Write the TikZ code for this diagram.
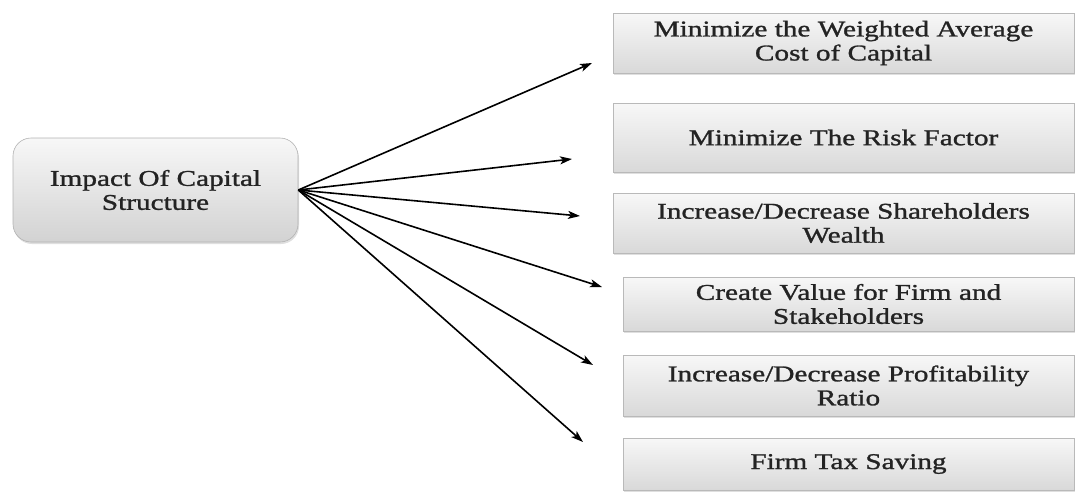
\documentclass[tikz,border=0pt]{standalone}
\usepackage{fontspec}
\setmainfont{Liberation Serif}[FakeStretch=1.3,FakeBold=1.2]
\usepackage{tikz}
\usetikzlibrary{arrows.meta,shadows}

\definecolor{boxtext}{RGB}{35,35,35}

\begin{document}
\begin{tikzpicture}[x=1pt, y=-1pt, >={Stealth[length=12pt,width=8pt,inset=3pt]}, semithick,
        impactbox/.style={rounded corners=18pt, draw=gray!60, top color=gray!6, bottom color=gray!35,
          drop shadow={shadow xshift=1pt, shadow yshift=-2pt, opacity=0.25},
          align=center, text=boxtext, font=\fontsize{22.5}{24}\selectfont},
        effectbox/.style={draw=gray!55, top color=gray!6, bottom color=gray!30,
          drop shadow={shadow xshift=1pt, shadow yshift=-2pt, opacity=0.25},
          align=center, text=boxtext, font=\fontsize{22.5}{24}\selectfont},
        link/.style={->, line width=1.6pt, black}]
        \useasboundingbox (0,0) rectangle (1075,491);
        \node[impactbox, minimum width=285pt, minimum height=104pt] at (155.5,190) (impact) {Impact Of Capital\\Structure};
        \node[effectbox, minimum width=461pt, minimum height=60pt] at (843.5,43)    (wacc)   {Minimize the Weighted Average\\Cost of Capital};
        \node[effectbox, minimum width=461pt, minimum height=69pt] at (843.5,137.5) (risk)   {Minimize The Risk Factor};
        \node[effectbox, minimum width=461pt, minimum height=60pt] at (843.5,223)   (wealth) {Increase/Decrease Shareholders\\Wealth};
        \node[effectbox, minimum width=451pt, minimum height=54pt] at (848.5,304)   (value)  {Create Value for Firm and\\Stakeholders};
        \node[effectbox, minimum width=451pt, minimum height=61pt] at (848.5,385.5) (profit) {Increase/Decrease Profitability\\Ratio};
        \node[effectbox, minimum width=451pt, minimum height=52pt] at (848.5,464)   (tax)    {Firm Tax Saving};
        % arrow ends stop short of the boxes
        \coordinate (wacc end)   at (592,63);
        \coordinate (risk end)   at (572,159);
        \coordinate (wealth end) at (580,216);
        \coordinate (value end)  at (602,287);
        \coordinate (profit end) at (593,365);
        \coordinate (tax end)    at (583,442);
        \draw[link] (impact.east) -- (wacc end);
        \draw[link] (impact.east) -- (risk end);
        \draw[link] (impact.east) -- (wealth end);
        \draw[link] (impact.east) -- (value end);
        \draw[link] (impact.east) -- (profit end);
        \draw[link] (impact.east) -- (tax end);
      \end{tikzpicture}
\end{document}
